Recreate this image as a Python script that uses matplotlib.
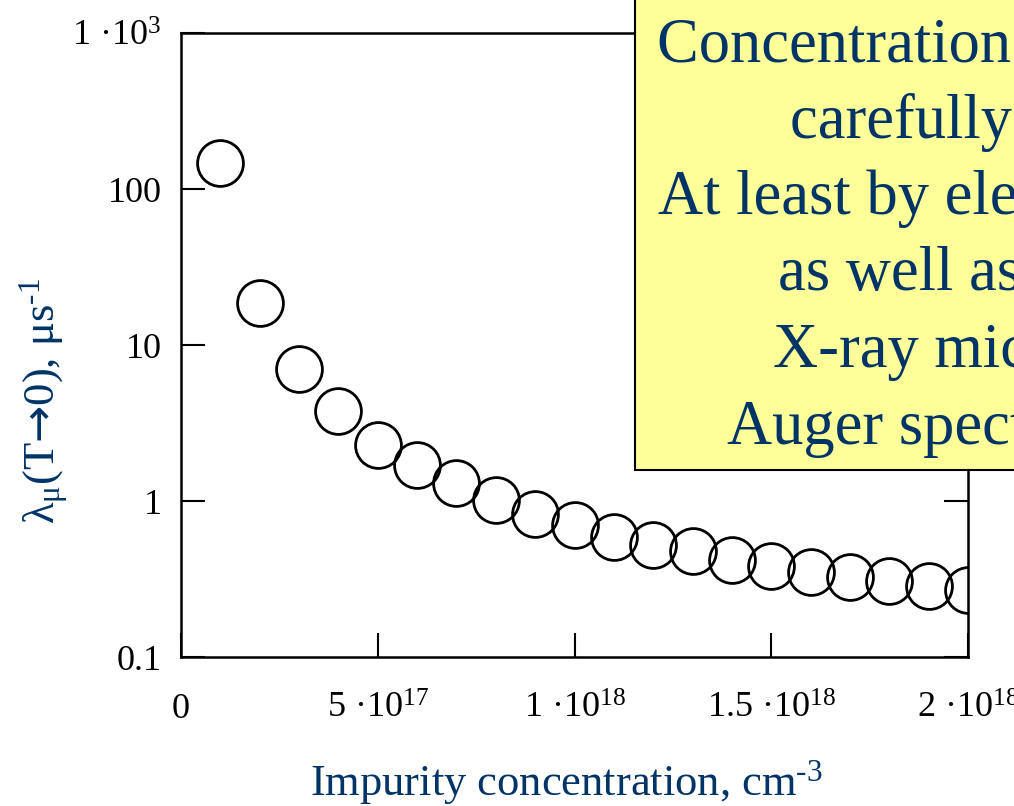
import matplotlib
matplotlib.use("Agg")
import matplotlib.pyplot as plt
from matplotlib.patches import Rectangle

plt.rcParams['font.family'] = ['Liberation Serif', 'DejaVu Serif']
plt.rcParams['mathtext.fontset'] = 'custom'
plt.rcParams['mathtext.rm'] = 'Liberation Serif'
plt.rcParams['mathtext.it'] = 'Liberation Serif:italic'
plt.rcParams['mathtext.sf'] = 'DejaVu Sans'
plt.rcParams['mathtext.default'] = 'regular'

# ---- data ----
concentration = [1e17, 2e17, 3e17, 4e17, 5e17, 6e17, 7e17, 8e17, 9e17, 1.0e18,
                 1.1e18, 1.2e18, 1.3e18, 1.4e18, 1.5e18, 1.6e18, 1.7e18, 1.8e18, 1.9e18, 2.0e18]
lambda_mu = [147, 18.6, 7.0, 3.78, 2.29, 1.70, 1.30, 1.01, 0.826, 0.70,
             0.588, 0.522, 0.478, 0.419, 0.383, 0.351, 0.326, 0.307, 0.285, 0.269]

x_ticks = [0, 5e17, 1e18, 1.5e18, 2e18]
x_ticklabels = ['0', '5 ·10$^{17}$', '1 ·10$^{18}$', '1.5 ·10$^{18}$', '2 ·10$^{18}$']
y_ticks = [0.1, 1, 10, 100, 1000]
y_ticklabels = ['0.1', '1', '10', '100', '1 ·10$^{3}$']

box_lines = ["Concentration of impurities was",
             "carefully checked",
             "At least by electron microprobe",
             "as well as by",
             "X-ray microanalysis",
             "Auger spectroscopy"]
box_line_x = [657, 790, 658, 778, 773, 727]

navy = '#003366'
W, H = 1014, 806

fig = plt.figure(figsize=(W / 100, H / 100), dpi=100)
ax = fig.add_axes([181 / W, (H - 657) / H, (968 - 181) / W, (657 - 33) / H])

ax.plot(concentration, lambda_mu, linestyle='none', marker='o', markersize=33,
        markerfacecolor='none', markeredgecolor='black', markeredgewidth=2.0)

ax.set_yscale('log')
ax.set_xlim(0, 2e18)
ax.set_ylim(0.1, 1000)
ax.set_xticks(x_ticks)
ax.set_xticklabels(x_ticklabels)
ax.set_yticks(y_ticks)
ax.set_yticklabels(y_ticklabels)
ax.yaxis.set_minor_locator(matplotlib.ticker.NullLocator())

ax.tick_params(axis='both', which='major', direction='in', length=17, width=1.5,
               labelsize=26, colors='black')
ax.tick_params(axis='x', pad=26)
ax.tick_params(axis='y', pad=14, right=True)
for s in ax.spines.values():
    s.set_linewidth(1.8)

ax.set_xlabel('Impurity concentration, cm$^{\\text{-3}}$', fontsize=32, color=navy)
ax.xaxis.set_label_coords(0.49, -0.163)
ax.set_ylabel('λ$_{μ}$(T$\\mathsf{→}$0), μs$^{\\text{-1}}$', fontsize=32, color=navy)
ax.yaxis.set_label_coords(-0.14, 0.41)

# yellow annotation box (extends beyond the figure edges)
rect = Rectangle((635 / W, (H - 470) / H), 1.0, 1.0, transform=fig.transFigure,
                 facecolor='#FFFF99', edgecolor='black', linewidth=1.5, zorder=5)
fig.add_artist(rect)
baselines = [62, 138, 214, 290, 367, 444]
for line, lx, by in zip(box_lines, box_line_x, baselines):
    fig.text(lx / W, (H - by) / H, line, fontsize=45, color=navy,
             ha='left', va='baseline', zorder=6)

fig.savefig('out.png', dpi=100)
